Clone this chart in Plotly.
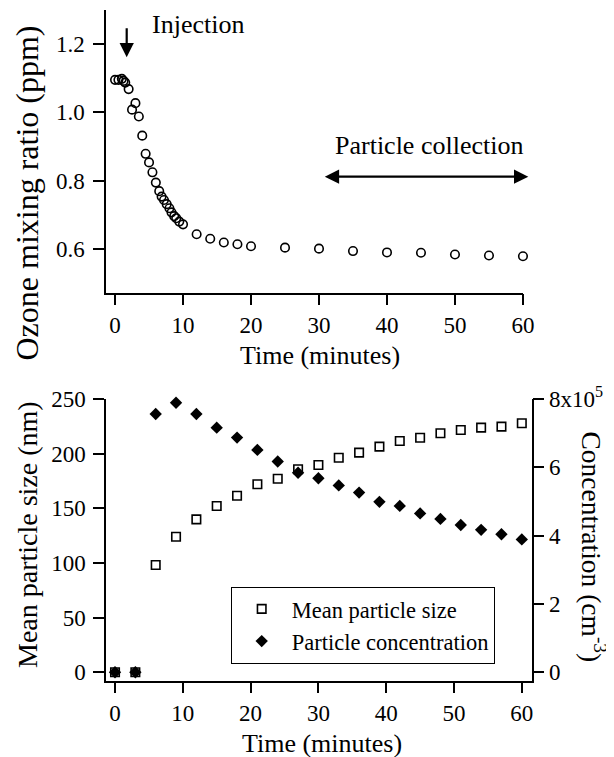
import plotly.graph_objects as go

# ---- Top panel data: ozone mixing ratio ----
ozone_time = [0, 0.5, 1, 1.25, 1.5, 2, 2.5, 3, 3.5, 4, 4.5, 5, 5.5, 6, 6.5, 6.85,
              7.2, 7.6, 8.0, 8.3, 8.7, 9.0, 9.45, 10, 12, 14, 16, 18, 20, 25, 30,
              35, 40, 45, 50, 55, 60]
ozone_ppm = [1.095, 1.095, 1.098, 1.092, 1.087, 1.068, 1.008, 1.027, 0.988, 0.932,
             0.879, 0.854, 0.825, 0.795, 0.770, 0.754, 0.744, 0.732, 0.720, 0.708,
             0.697, 0.691, 0.681, 0.673, 0.644, 0.631, 0.620, 0.615, 0.609, 0.605,
             0.602, 0.595, 0.591, 0.590, 0.585, 0.582, 0.580]

# ---- Bottom panel data ----
size_time = [0, 3, 6, 9, 12, 15, 18, 21, 24, 27, 30, 33, 36, 39, 42, 45, 48, 51, 54, 57, 60]
mean_size_nm = [0, 0, 98.2, 124.0, 139.9, 152.1, 161.5, 172.0, 177.1, 185.7, 189.6,
                196.3, 200.9, 206.4, 211.6, 214.6, 218.6, 221.6, 223.8, 224.7, 227.8]
concentration = [0, 0, 7.56e5, 7.89e5, 7.56e5, 7.16e5, 6.87e5, 6.51e5, 6.17e5, 5.84e5,
                 5.68e5, 5.47e5, 5.26e5, 4.99e5, 4.87e5, 4.65e5, 4.49e5, 4.31e5,
                 4.17e5, 4.04e5, 3.89e5]

x_ticks = [0, 10, 20, 30, 40, 50, 60]
ozone_ticks = [0.6, 0.8, 1.0, 1.2]
size_ticks = [0, 50, 100, 150, 200, 250]
conc_ticks = [0, 2e5, 4e5, 6e5, 8e5]
conc_ticktext = ["0", "2", "4", "6", "8x10<sup>5</sup>"]

# page body has an 8px margin, so the figure is 8px smaller than the window
OFF = 8
W, H = 614 - OFF, 757 - OFF
FONT = "Liberation Serif"

def px_x(p):
    return (p - OFF) / W

def px_y(p):
    return (H - (p - OFF)) / H

fig = go.Figure()

fig.add_trace(go.Scatter(
    x=ozone_time, y=ozone_ppm, mode="markers", xaxis="x", yaxis="y",
    marker=dict(symbol="circle-open", size=8.5, color="black", line=dict(width=1.6, color="black")),
    showlegend=False, cliponaxis=False))

fig.add_trace(go.Scatter(
    x=size_time, y=mean_size_nm, mode="markers", xaxis="x2", yaxis="y3",
    name="Mean particle size",
    marker=dict(symbol="square-open", size=8.5, color="black", line=dict(width=1.6, color="black")),
    cliponaxis=False))

fig.add_trace(go.Scatter(
    x=size_time, y=concentration, mode="markers", xaxis="x2", yaxis="y2",
    name="Particle concentration",
    marker=dict(symbol="diamond", size=9.5, color="black", line=dict(width=0)),
    cliponaxis=False))

axis_common = dict(showline=True, linecolor="black", linewidth=1.5, ticks="outside",
                   ticklen=11, tickwidth=1.5, tickcolor="black", showgrid=False,
                   zeroline=False, automargin=False,
                   tickfont=dict(family=FONT, size=23, color="black"))

fig.update_layout(
    template="none",
    width=W, height=H, margin=dict(l=0, r=0, t=0, b=0, pad=0),
    plot_bgcolor="white", paper_bgcolor="white",
    font=dict(family=FONT, color="black"),
    xaxis=dict(domain=[px_x(106), px_x(523.3)], range=[-1.33, 60.05], anchor="y",
               tickvals=x_ticks, **axis_common),
    yaxis=dict(domain=[px_y(292.5), px_y(10)], range=[0.474, 1.299], anchor="x",
               tickvals=ozone_ticks, tickformat=".1f", ticklabelstandoff=4, **axis_common),
    xaxis2=dict(domain=[px_x(106), px_x(531.7)], range=[-1.33, 61.46], anchor="y3",
                tickvals=x_ticks, **axis_common),
    yaxis3=dict(domain=[px_y(680.7), px_y(399)], range=[-7.7, 250], anchor="x2",
                tickvals=size_ticks, ticklabelstandoff=3, **axis_common),
    yaxis2=dict(range=[-7.7 / 250 * 8e5, 8e5], overlaying="y3", side="right", anchor="x2",
                tickvals=conc_ticks, ticktext=conc_ticktext, **axis_common),
    legend=dict(x=px_x(230.7), y=px_y(586.7), xanchor="left", yanchor="top",
                bordercolor="black", borderwidth=1, bgcolor="white", itemwidth=50,
                font=dict(family=FONT, size=22.5, color="black")),
    showlegend=True,
)

ann = []
def text_ann(text, x, y, size, angle=0, xanchor="center"):
    ann.append(dict(text=text, x=px_x(x), y=px_y(y), xref="paper", yref="paper",
                    showarrow=False, xanchor=xanchor, yanchor="middle", textangle=angle,
                    font=dict(family=FONT, size=size, color="black")))

text_ann("Ozone mixing ratio (ppm)", 27, 193.5, 32, -90)
text_ann("Time (minutes)", 320, 355, 26)
text_ann("Mean particle size (nm)", 27, 535, 28, -90)
text_ann("Concentration (cm<sup>-3</sup>)", 593, 546.5, 27.5, 90)
text_ann("Time (minutes)", 322, 743, 26)
text_ann("Injection", 150, 24, 26, xanchor="left")
text_ann("Particle collection", 429, 145.5, 26)

# Injection arrow (pointing down)
ann.append(dict(text="", x=px_x(126.7), y=px_y(57.3), xref="paper", yref="paper",
                ax=0, ay=-30.6, axref="pixel", ayref="pixel", showarrow=True,
                arrowhead=2, arrowsize=1.3, arrowwidth=2.2, arrowcolor="black"))
# Particle collection double arrow
ann.append(dict(text="", x=px_x(528.3), y=px_y(176.7), xref="paper", yref="paper",
                ax=-205, ay=0, axref="pixel", ayref="pixel", showarrow=True,
                arrowhead=2, startarrowhead=2, arrowside="end+start", arrowsize=1.3,
                startarrowsize=1.3, arrowwidth=2.2, arrowcolor="black"))

fig.update_layout(annotations=ann)
fig.write_html("out.html")
